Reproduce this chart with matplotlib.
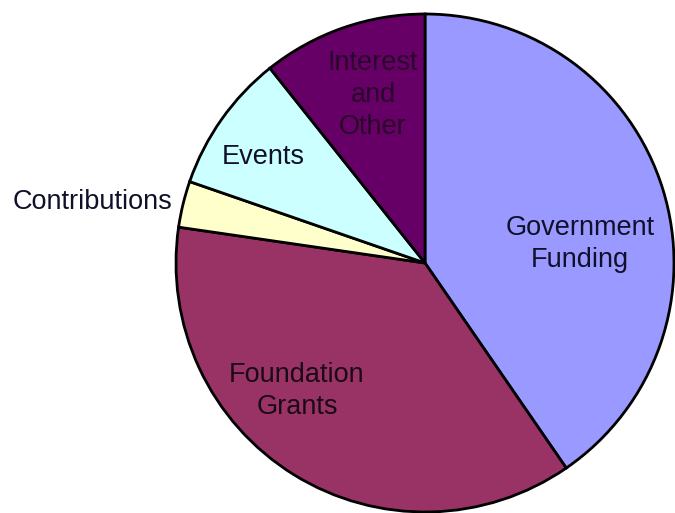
import matplotlib
matplotlib.use("Agg")
import matplotlib.pyplot as plt

plt.rcParams['font.family'] = ['Liberation Sans', 'DejaVu Sans']

# revenue shares (percent)
categories = ['Government Funding', 'Foundation Grants', 'Contributions', 'Events', 'Interest and Other']
shares = [40.4, 36.9, 3.0, 9.0, 10.7]
colors = ['#9999ff', '#993366', '#ffffcc', '#ccffff', '#660066']

# label text and where it sits (pixels in the 675x513 picture)
label_text = ['Government\nFunding', 'Foundation\nGrants', 'Contributions', 'Events', 'Interest\nand\nOther']
label_px = [(580, 244), (297, 391), (92, 202), (263, 157), (373, 95)]
label_color = ['#10102a', '#1a0a16', '#10102a', '#10102a', '#2a062a']

W, H = 675, 513
cx, cy, r = 425, 263, 249

fig = plt.figure(figsize=(W / 100, H / 100), dpi=100)
ax = fig.add_axes([(cx - r) / W, (H - cy - r) / H, 2 * r / W, 2 * r / H])

ax.pie(shares, colors=colors, startangle=90, counterclock=False,
       wedgeprops=dict(edgecolor='black', linewidth=2))
ax.set_xlim(-1, 1)
ax.set_ylim(-1, 1)
ax.axis('off')

for txt, (px, py), c in zip(label_text, label_px, label_color):
    ax.text((px - cx) / r, (cy - py) / r, txt, ha='center', va='center',
            fontsize=19.5, color=c, linespacing=1.28)

fig.savefig('out.png', dpi=100)
